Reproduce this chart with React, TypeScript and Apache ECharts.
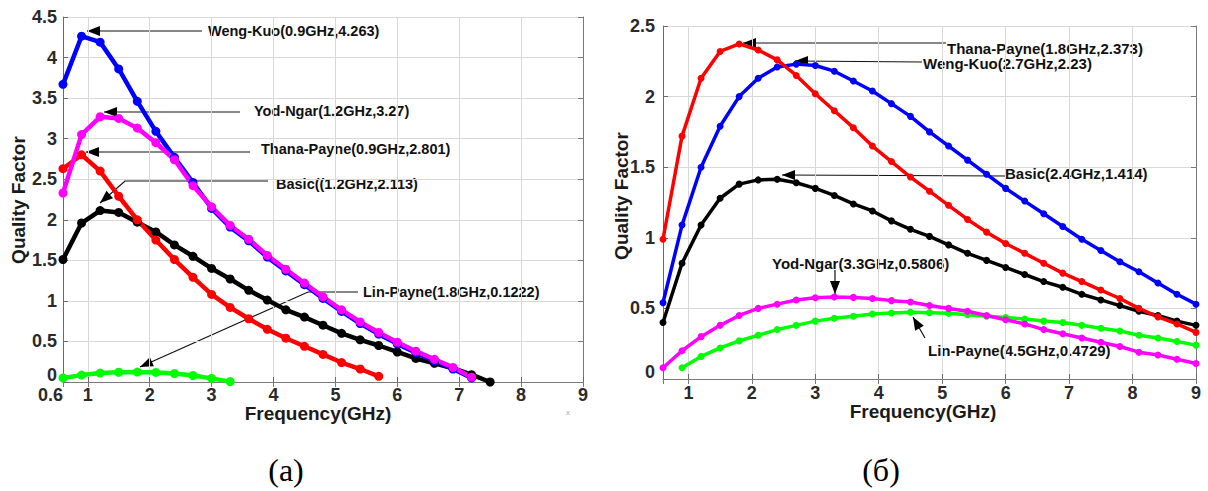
import React, { useEffect, useRef } from "react";
import * as echarts from "echarts";

// ---------- data ----------
const freqA = [0.6, 0.9, 1.2, 1.5, 1.8, 2.1, 2.4, 2.7, 3.0, 3.3, 3.6, 3.9, 4.2, 4.5, 4.8, 5.1, 5.4, 5.7, 6.0, 6.3, 6.6, 6.9, 7.2, 7.5];
const wengKuoA = [3.67, 4.263, 4.19, 3.86, 3.46, 3.09, 2.77, 2.46, 2.14, 1.91, 1.74, 1.54, 1.37, 1.2, 1.03, 0.87, 0.72, 0.59, 0.47, 0.36, 0.26, 0.16, 0.05];
const yodNgarA = [2.33, 3.05, 3.27, 3.25, 3.13, 2.95, 2.74, 2.42, 2.16, 1.93, 1.76, 1.56, 1.39, 1.22, 1.05, 0.89, 0.74, 0.61, 0.49, 0.38, 0.28, 0.18, 0.06];
const thanaPayneA = [2.63, 2.801, 2.6, 2.29, 2.0, 1.75, 1.51, 1.29, 1.08, 0.92, 0.78, 0.65, 0.54, 0.44, 0.34, 0.24, 0.16, 0.07];
const basicA = [1.51, 1.96, 2.113, 2.09, 1.97, 1.85, 1.69, 1.55, 1.4, 1.27, 1.13, 1.01, 0.89, 0.8, 0.7, 0.6, 0.52, 0.45, 0.37, 0.29, 0.23, 0.17, 0.09, 0.0];
const linPayneA = [0.05, 0.085, 0.11, 0.12, 0.1222, 0.118, 0.105, 0.08, 0.045, 0.005];

const freqB = [0.6, 0.9, 1.2, 1.5, 1.8, 2.1, 2.4, 2.7, 3.0, 3.3, 3.6, 3.9, 4.2, 4.5, 4.8, 5.1, 5.4, 5.7, 6.0, 6.3, 6.6, 6.9, 7.2, 7.5, 7.8, 8.1, 8.4, 8.7, 9.0];
const thanaPayneB = [0.99, 1.72, 2.13, 2.32, 2.373, 2.33, 2.26, 2.15, 2.02, 1.9, 1.78, 1.65, 1.54, 1.43, 1.33, 1.23, 1.13, 1.04, 0.96, 0.89, 0.82, 0.75, 0.69, 0.63, 0.57, 0.5, 0.44, 0.39, 0.33];
const wengKuoB = [0.54, 1.09, 1.5, 1.79, 2.0, 2.13, 2.21, 2.23, 2.22, 2.18, 2.11, 2.04, 1.95, 1.86, 1.75, 1.65, 1.55, 1.45, 1.35, 1.26, 1.17, 1.08, 0.99, 0.91, 0.83, 0.76, 0.68, 0.6, 0.53];
const basicB = [0.4, 0.82, 1.09, 1.28, 1.38, 1.41, 1.414, 1.39, 1.35, 1.3, 1.24, 1.19, 1.12, 1.06, 1.01, 0.95, 0.89, 0.84, 0.79, 0.74, 0.69, 0.65, 0.6, 0.56, 0.52, 0.48, 0.45, 0.41, 0.38];
const yodNgarB = [0.08, 0.2, 0.3, 0.38, 0.45, 0.5, 0.53, 0.56, 0.575, 0.5806, 0.578, 0.57, 0.555, 0.545, 0.52, 0.5, 0.48, 0.45, 0.42, 0.39, 0.35, 0.32, 0.29, 0.26, 0.23, 0.19, 0.17, 0.14, 0.11];
const linPayneB = [0.08, 0.16, 0.22, 0.27, 0.31, 0.35, 0.38, 0.41, 0.43, 0.445, 0.46, 0.468, 0.4729, 0.47, 0.465, 0.455, 0.445, 0.435, 0.425, 0.41, 0.4, 0.38, 0.36, 0.34, 0.31, 0.29, 0.265, 0.24];

const xTitle = "Frequency(GHz)";
const yTitle = "Quality Factor";

const zip = (xs: number[], ys: number[]) => ys.map((y, i) => [xs[i], y]);

const FONT = '"Liberation Sans", Arial, sans-serif';

function arrowHead(tx: number, ty: number, fx: number, fy: number, len = 13, hw = 5) {
  const dx = tx - fx, dy = ty - fy;
  const d = Math.hypot(dx, dy);
  const ux = dx / d, uy = dy / d;
  const bx = tx - ux * len, by = ty - uy * len;
  return {
    type: "polygon",
    silent: true,
    shape: { points: [[tx, ty], [bx - uy * hw, by + ux * hw], [bx + uy * hw, by - ux * hw]] },
    style: { fill: "#000" },
  };
}
function label(text: string, x: number, y: number, size: number) {
  return {
    type: "text", silent: true, x, y,
    style: { text, fontFamily: FONT, fontWeight: "bold", fontSize: size, lineHeight: size - 1, fill: "#111", align: "left", verticalAlign: "middle" },
  };
}
function arrow(points: number[][]) {
  const n = points.length;
  const tip = points[n - 1], prev = points[n - 2];
  return [
    { type: "polyline", silent: true, shape: { points }, style: { stroke: "#111", lineWidth: 1.2, fill: null } },
    arrowHead(tip[0], tip[1], prev[0], prev[1]),
  ];
}

function mkX(gridIndex: number, left: boolean) {
  return {
    type: "value", gridIndex, min: 0.6, max: 9, splitNumber: 8, position: "bottom",
    axisLine: { show: true, lineStyle: { color: "#6a6a6a", width: 1 } },
    axisTick: { show: true, inside: true, length: 5, lineStyle: { color: "#6a6a6a" } },
    axisLabel: {
      show: true, showMinLabel: left, fontFamily: FONT, fontWeight: "bold", fontSize: 18, lineHeight: 15, color: "#2a2a2a",
      margin: left ? 5 : 6, alignMinLabel: "right",
    },
    splitLine: { show: true, lineStyle: { color: "#d8d8d8", width: 1 } },
  };
}
function mkXTop(gridIndex: number) {
  return {
    type: "value", gridIndex, min: 0.6, max: 9, splitNumber: 8, position: "top",
    axisLine: { show: true, lineStyle: { color: "#7a7a7a", width: 1 } },
    axisTick: { show: true, inside: true, length: 5, lineStyle: { color: "#7a7a7a" } },
    axisLabel: { show: false }, splitLine: { show: false },
  };
}
function mkY(gridIndex: number, max: number, margin: number) {
  return {
    type: "value", gridIndex, min: 0, max, interval: 0.5, position: "left",
    axisLine: { show: true, lineStyle: { color: "#6a6a6a", width: 1 } },
    axisTick: { show: true, inside: true, length: 5, lineStyle: { color: "#6a6a6a" } },
    axisLabel: {
      show: true, fontFamily: FONT, fontWeight: "bold", fontSize: 18, lineHeight: 15, color: "#2a2a2a", margin,
      verticalAlignMinLabel: "bottom",
    },
    splitLine: { show: true, lineStyle: { color: "#d8d8d8", width: 1 } },
  };
}
function mkYRight(gridIndex: number, max: number) {
  return {
    type: "value", gridIndex, min: 0, max, interval: 0.5, position: "right",
    axisLine: { show: true, lineStyle: { color: "#7a7a7a", width: 1 } },
    axisTick: { show: true, inside: true, length: 5, lineStyle: { color: "#7a7a7a" } },
    axisLabel: { show: false }, splitLine: { show: false },
  };
}
function line(name: string, data: number[][], color: string, xi: number, yi: number, w: number, s: number) {
  return {
    name, type: "line", xAxisIndex: xi, yAxisIndex: yi, data,
    symbol: "circle", symbolSize: s, showSymbol: true,
    lineStyle: { color, width: w }, itemStyle: { color },
    emphasis: { disabled: true }, silent: true,
  };
}

export default function App() {
  const ref = useRef<HTMLDivElement>(null);
  useEffect(() => {
    document.body.style.margin = "0";
    const chart = echarts.init(ref.current!, null, { renderer: "svg" });
    const LW = 4.5, LS = 9, RW = 3.5, RS = 7;
    const titleStyle = { fontFamily: FONT, fontWeight: "bold", fontSize: 19, lineHeight: 17, fill: "#1a1a1a", align: "center", verticalAlign: "middle" };
    const option: any = {
      animation: false,
      backgroundColor: "#ffffff",
      grid: [
        { left: 63, top: 17, width: 520, height: 365 },
        { left: 663, top: 26, width: 533, height: 353 },
      ],
      xAxis: [mkX(0, true), mkX(1, false), mkXTop(0), mkXTop(1)],
      yAxis: [mkY(0, 4.5, 6), mkY(1, 2.5, 8), mkYRight(0, 4.5), mkYRight(1, 2.5)],
      series: [
        line("Basic", zip(freqA, basicA), "#000000", 0, 0, LW, LS),
        line("Thana-Payne", zip(freqA, thanaPayneA), "#ff0000", 0, 0, LW, LS),
        line("Weng-Kuo", zip(freqA, wengKuoA), "#0000ff", 0, 0, LW, LS),
        line("Yod-Ngar", zip(freqA, yodNgarA), "#ff00ff", 0, 0, LW, LS),
        line("Lin-Payne", zip(freqA, linPayneA), "#00ff00", 0, 0, LW, LS),

        line("Weng-Kuo ", zip(freqB, wengKuoB), "#0000ff", 1, 1, RW, RS),
        line("Basic ", zip(freqB, basicB), "#000000", 1, 1, RW, RS),
        line("Thana-Payne ", zip(freqB, thanaPayneB), "#ff0000", 1, 1, RW, RS),
        line("Lin-Payne ", zip(freqB.slice(1), linPayneB), "#00ff00", 1, 1, RW, RS),
        line("Yod-Ngar ", zip(freqB, yodNgarB), "#ff00ff", 1, 1, RW, RS),
      ],
      graphic: [
        // axis titles
        { type: "text", silent: true, x: 18, y: 200, rotation: Math.PI / 2, style: { text: yTitle, ...titleStyle } },
        { type: "text", silent: true, x: 621, y: 196, rotation: Math.PI / 2, style: { text: yTitle, ...titleStyle } },
        { type: "text", silent: true, x: 318, y: 413, style: { text: xTitle, ...titleStyle } },
        { type: "text", silent: true, x: 923, y: 411, style: { text: xTitle, ...titleStyle } },
        { type: "text", silent: true, x: 568, y: 412,
          style: { text: "x", fontFamily: FONT, fontSize: 8, fill: "#aaaaaa", align: "center", verticalAlign: "middle" } },
        // captions
        { type: "text", silent: true, x: 286, y: 470,
          style: { text: "(a)", fontFamily: '"Liberation Serif", "Times New Roman", serif', fontSize: 32, fill: "#000", align: "center", verticalAlign: "middle" } },
        { type: "text", silent: true, x: 881, y: 470,
          style: { text: "(б)", fontFamily: '"Liberation Serif", "Times New Roman", serif', fontSize: 32, fill: "#000", align: "center", verticalAlign: "middle" } },
        // left annotations
        ...arrow([[202, 31], [87, 31]]),
        label("Weng-Kuo(0.9GHz,4.263)", 208, 31, 14.5),
        ...arrow([[240, 112], [104, 112]]),
        label("Yod-Ngar(1.2GHz,3.27)", 254, 111, 14.5),
        ...arrow([[250, 152], [86, 152]]),
        label("Thana-Payne(0.9GHz,2.801)", 261, 149, 14.5),
        ...arrow([[268, 181], [125, 181], [100, 203]]),
        label("Basic((1.2GHz,2.113)", 276, 184, 14.5),
        ...arrow([[358, 292], [308, 292], [140, 367]]),
        label("Lin-Payne(1.8GHz,0.1222)", 363, 292, 14.5),
        // right annotations
        ...arrow([[946, 43], [743, 43]]),
        label("Thana-Payne(1.8GHz,2.373)", 947, 48, 15),
        ...arrow([[922, 62], [795, 61]]),
        label("Weng-Kuo(2.7GHz,2.23)", 923, 63, 15),
        ...arrow([[1005, 176], [782, 175]]),
        label("Basic(2.4GHz,1.414)", 1005, 173, 15),
        ...arrow([[835, 270], [835, 294]]),
        label("Yod-Ngar(3.3GHz,0.5806)", 772, 263, 15),
        ...arrow([[925, 338], [913, 317]]),
        label("Lin-Payne(4.5GHz,0.4729)", 928, 350, 15),
      ],
    };
    chart.setOption(option);
    return () => chart.dispose();
  }, []);
  return <div ref={ref} style={{ position: "fixed", left: 0, top: 0, width: 1208, height: 491 }} />;
}
